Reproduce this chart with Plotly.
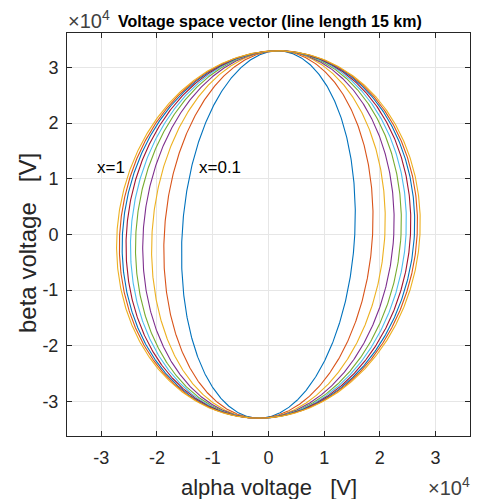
import numpy as np
import plotly.graph_objects as go

# Data (units: volts)
x_factors = [0.1, 0.2, 0.3, 0.4, 0.5, 0.6, 0.7, 0.8, 0.9, 1.0]
alpha_amplitude = [1.55e4, 1.87e4, 2.09e4, 2.25e4, 2.38e4, 2.47e4, 2.55e4, 2.62e4, 2.67e4, 2.72e4]
beta_amplitude = 3.30e4
alpha_skew = 0.17e4
series_colors = ["#0072BD", "#D95319", "#EDB120", "#7E2F8E", "#77AC30",
                 "#4DBEEE", "#A2142F", "#0072BD", "#D95319", "#EDB120"]
tick_values = [-3e4, -2e4, -1e4, 0, 1e4, 2e4, 3e4]
tick_labels = ["-3", "-2", "-1", "0", "1", "2", "3"]

theta = np.linspace(0, 2 * np.pi, 721)
fig = go.Figure()
for xf, a, col in zip(x_factors, alpha_amplitude, series_colors):
    alpha = a * np.cos(theta) + alpha_skew * np.sin(theta)
    beta = beta_amplitude * np.sin(theta)
    fig.add_trace(go.Scatter(x=alpha, y=beta, mode="lines", name=f"x={xf}",
                             line=dict(color=col, width=1.1), hoverinfo="skip"))

FONT = "Liberation Sans, Arial, Helvetica, sans-serif"
DARK = "#262626"
axis_common = dict(
    tickvals=tick_values, ticktext=tick_labels,
    showgrid=True, gridcolor="#e6e6e6", gridwidth=1,
    zeroline=False, showline=True, linecolor=DARK, linewidth=1,
    mirror="ticks", ticks="inside", ticklen=5, tickcolor=DARK,
    tickfont=dict(family=FONT, size=18, color=DARK),
    automargin=False,
)
NB = "\u00a0"
fig.update_layout(
    width=479, height=499,
    margin=dict(l=67, r=9, t=33, b=63),
    paper_bgcolor="white", plot_bgcolor="white",
    showlegend=False,
    font=dict(family=FONT, color=DARK),
    xaxis=dict(range=[-3.615e4, 3.618e4], ticklabelstandoff=5, **axis_common),
    yaxis=dict(range=[-3.62e4, 3.62e4], ticklabelstandoff=4, **axis_common),
    annotations=[
        dict(text="<b>Voltage space vector (line length 15 km)</b>", xref="paper", yref="paper",
             x=(116 - 67) / 403, y=1.0, xanchor="left", yanchor="bottom", yshift=1, showarrow=False,
             font=dict(size=16, family=FONT, color="black")),
        dict(text="×10<sup>4</sup>", xref="paper", yref="paper", x=(66 - 67) / 403, y=1.0,
             xanchor="left", yanchor="bottom", yshift=-1, showarrow=False,
             font=dict(size=20, family=FONT, color="#404040")),
        dict(text="×10<sup>4</sup>", xref="paper", yref="paper", x=(472 - 67) / 403,
             y=-(486 - 436) / 403, xanchor="right", yanchor="middle", showarrow=False,
             font=dict(size=20, family=FONT, color="#404040")),
        dict(text=f"alpha voltage{NB}{NB}{NB}[V]", xref="paper", yref="paper",
             x=(269 - 67) / 403, y=-(487 - 436) / 403, xanchor="center", yanchor="middle",
             showarrow=False, font=dict(size=22, family=FONT, color=DARK)),
        dict(text=f"beta voltage{NB}{NB}{NB}[V]", xref="paper", yref="paper", textangle=-90,
             x=(27 - 67) / 403, y=(436 - 243) / 403, xanchor="center", yanchor="middle",
             showarrow=False, font=dict(size=24, family=FONT, color=DARK)),
        dict(text="x=1", x=-3.11e4, y=1.21e4, xanchor="left", showarrow=False,
             font=dict(size=17, family=FONT, color="black")),
        dict(text="x=0.1", x=-1.29e4, y=1.21e4, xanchor="left", showarrow=False,
             font=dict(size=17, family=FONT, color="black")),
    ],
)
fig.write_html("out.html", config={"displayModeBar": False},
               post_script="document.body.style.margin='0';document.body.style.overflow='hidden';")
